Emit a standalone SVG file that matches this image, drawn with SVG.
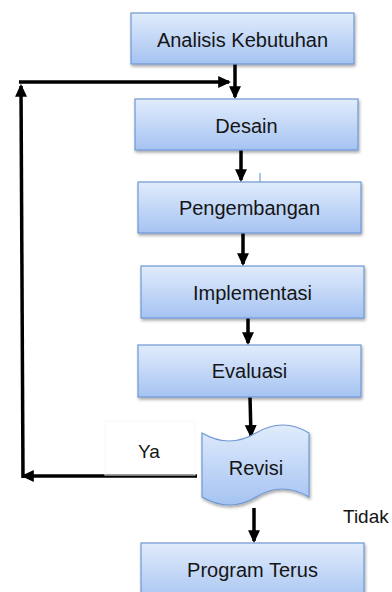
<svg xmlns="http://www.w3.org/2000/svg" width="392" height="592" viewBox="0 0 392 592">
<defs>
<linearGradient id="g" x1="0" y1="0" x2="0" y2="1">
<stop offset="0" stop-color="#e1ecfc"/>
<stop offset="1" stop-color="#a5c3f2"/>
</linearGradient>
<filter id="sh" x="-10%" y="-10%" width="120%" height="140%">
<feDropShadow dx="1" dy="2" stdDeviation="1.5" flood-color="#000" flood-opacity="0.35"/>
</filter>
<marker id="ah" viewBox="0 0 12 12" markerWidth="13" markerHeight="13" refX="10" refY="6" orient="auto" markerUnits="userSpaceOnUse">
<path d="M0,0.5 L12,6 L0,11.5 Z" fill="#000"/>
</marker>
</defs>
<style>
.box{fill:url(#g);stroke:#6f98d4;stroke-width:1.2;filter:url(#sh)}
.t{font-family:"Liberation Sans",Arial,sans-serif;font-size:20px;fill:#151515;text-anchor:middle}
.l{font-family:"Liberation Sans",Arial,sans-serif;font-size:19px;fill:#151515}
.ca{stroke:#000;stroke-width:3.5;fill:none;marker-end:url(#ah)}
</style>
<rect width="392" height="592" fill="#fff"/>
<g id="connectors">
<line class="ca" x1="235" y1="64" x2="235" y2="97"/>
<line class="ca" x1="241" y1="150" x2="241" y2="180"/>
<line class="ca" x1="243" y1="233" x2="243" y2="264"/>
<line class="ca" x1="248" y1="318" x2="248" y2="343"/>
<line class="ca" x1="250" y1="397" x2="251" y2="436"/>
<line class="ca" x1="254" y1="508" x2="254" y2="541"/>
<line class="ca" x1="197" y1="476" x2="23" y2="476"/>
<line class="ca" x1="23" y1="478" x2="21" y2="86"/>
<line class="ca" x1="19" y1="82" x2="229" y2="82"/>
<line x1="260" y1="173" x2="260" y2="182" stroke="#5b8bd0" stroke-width="1"/>
</g>
<g id="n1"><rect class="box" x="131" y="13" width="223" height="51"/><text class="t" x="242.5" y="47">Analisis Kebutuhan</text></g>
<g id="n2"><rect class="box" x="135" y="99" width="223" height="51"/><text class="t" x="246.5" y="133">Desain</text></g>
<g id="n3"><rect class="box" x="138" y="182" width="223" height="51"/><text class="t" x="249.5" y="215">Pengembangan</text></g>
<g id="n4"><rect class="box" x="141" y="266" width="223" height="52"/><text class="t" x="252.5" y="300">Implementasi</text></g>
<g id="n5"><rect class="box" x="138" y="345" width="223" height="52"/><text class="t" x="249.5" y="378">Evaluasi</text></g>
<g id="n6"><path class="box" d="M202,433 Q229,449 256,433 T309,433 L309,497 Q282,481 256,497 T202,497 Z"/><text class="t" x="256" y="475">Revisi</text></g>
<g id="n7"><rect class="box" x="141" y="543" width="223" height="60"/><text class="t" x="252.5" y="577">Program Terus</text></g>
<g id="labels">
<rect x="105" y="421" width="90" height="54" fill="none" stroke="#f7f7f7" stroke-width="1"/>
<text class="l" x="138" y="458">Ya</text>
<text class="l" x="343" y="523">Tidak</text>
</g>
</svg>
